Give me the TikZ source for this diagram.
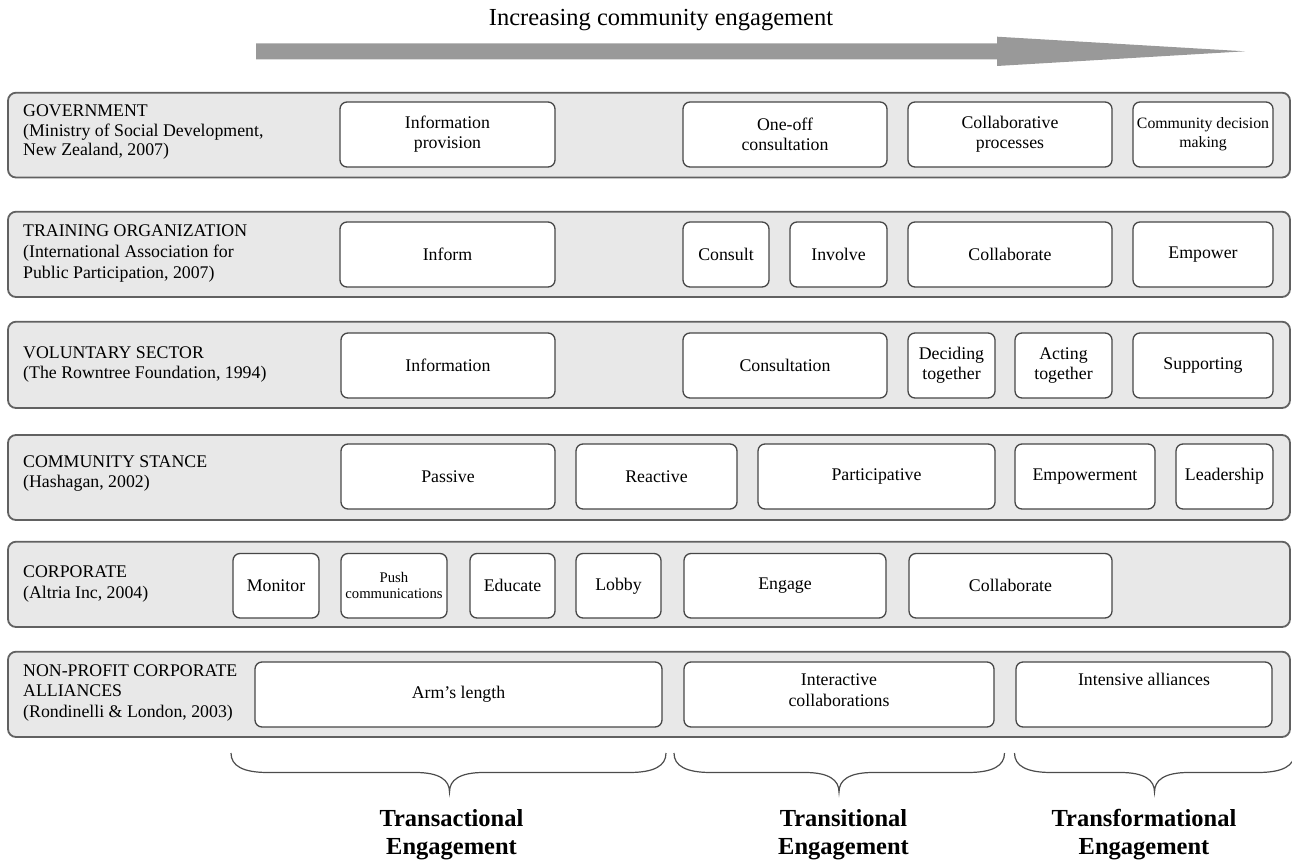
\documentclass[tikz,border=0pt]{standalone}
\usepackage{fontspec}
\setmainfont{Liberation Serif}
\newcommand\lblfont{\fontsize{17.8}{20}\selectfont}
\newcommand\boxfont{\fontsize{17.8}{20}\selectfont}
\newcommand\bigfont{\fontsize{24.5}{28}\selectfont}
\tikzset{
  rowbox/.style={draw=black!62, line width=1.8pt, fill=black!9, rounded corners=8pt},
  ibox/.style={draw=black!72, line width=1.3pt, fill=white, rounded corners=7pt,
    inner sep=0pt, outer sep=0pt, align=center, font=\boxfont},
  lbl/.style={anchor=north west, inner sep=0pt, align=left, font=\lblfont},
  btxt/.style={anchor=north, inner sep=0pt, align=center, font=\bigfont\bfseries},
  bracepath/.style={draw=black!70, line width=1.2pt},
  bigarrow/.style={fill=black!40, draw=none}
}
\newcommand\ibx[7][]{%
  \pgfmathsetmacro\bw{#4-#3}\pgfmathsetmacro\bh{#6-#5}%
  \pgfmathsetmacro\bcx{(#3+#4)/2}\pgfmathsetmacro\bcy{(#5+#6)/2}%
  \node[ibox,minimum width=\bw pt,minimum height=\bh pt,#1] (#2) at (\bcx,\bcy) {#7};}
\newcommand\brc[3]{%
  \draw[bracepath] (#1,753) .. controls (#1,766) and (#1+12,772.5) .. (#1+37,772.5)
    -- (#2-34,772.5) .. controls (#2-10,772.5) and (#2,780) .. (#2,792)
    .. controls (#2,780) and (#2+10,772.5) .. (#2+34,772.5)
    -- (#3-37,772.5) .. controls (#3-12,772.5) and (#3,766) .. (#3,753);}
\begin{document}
\begin{tikzpicture}[x=1pt,y=-1pt]
\useasboundingbox (0,0) rectangle (1292,861);

% title and arrow
\node[anchor=base, inner sep=0pt, font=\bigfont] (title) at (661,26) {Increasing community engagement};
\fill[bigarrow] (256,43.3) -- (997,43.3) -- (997,36.7) -- (1245,51.3) -- (997,66) -- (997,59.3) -- (256,59.3) -- cycle;

% row backgrounds
\draw[rowbox] (8,92.7) rectangle (1290,177.5);
\draw[rowbox] (8,211.7) rectangle (1290,297);
\draw[rowbox] (8,321.7) rectangle (1290,408);
\draw[rowbox] (8,435) rectangle (1290,520);
\draw[rowbox] (8,541.7) rectangle (1290,627);
\draw[rowbox] (8,651.7) rectangle (1290,737);

% row labels
\node[lbl, font=\fontsize{17.8}{19.5}\selectfont] (L1) at (23,{116.7-14}) {\rule{0pt}{14pt}GOVERNMENT\\(Ministry of Social Development,\\New Zealand, 2007)};
\node[lbl, font=\fontsize{17.8}{21}\selectfont] (L2) at (23,{236.7-14}) {\rule{0pt}{14pt}TRAINING ORGANIZATION\\(International Association for\\Public Participation, 2007)};
\node[lbl] (L3) at (23,{358.3-14}) {\rule{0pt}{14pt}VOLUNTARY SECTOR\\(The Rowntree Foundation, 1994)};
\node[lbl] (L4) at (23,{467.3-14}) {\rule{0pt}{14pt}COMMUNITY STANCE\\(Hashagan, 2002)};
\node[lbl, font=\fontsize{17.8}{20.6}\selectfont] (L5) at (23,{577.7-14}) {\rule{0pt}{14pt}CORPORATE\\(Altria Inc, 2004)};
\node[lbl, font=\fontsize{17.8}{20.7}\selectfont] (L6) at (23,{676-14}) {\rule{0pt}{14pt}NON-PROFIT CORPORATE\\ALLIANCES\\(Rondinelli \& London, 2003)};

% row 1
\ibx{gIP}{340}{555}{102}{167}{Information\\provision}
\ibx{gOO}{683}{887}{102}{167}{One-off\\consultation}
\ibx{gCP}{908}{1112}{102}{167}{Collaborative\\processes}
\ibx[font=\fontsize{15.8}{19}\selectfont]{gCD}{1133}{1273}{102}{167}{Community decision\\making}
% row 2
\ibx{tIn}{340}{555}{222}{287}{Inform}
\ibx{tCo}{683}{769}{222}{287}{Consult}
\ibx{tIv}{790}{887}{222}{287}{Involve}
\ibx{tCl}{908}{1112}{222}{287}{Collaborate}
\ibx{tEm}{1133}{1273}{222}{287}{Empower}
% row 3
\ibx{vIn}{341}{555}{333}{398}{Information}
\ibx{vCo}{683}{887}{333}{398}{Consultation}
\ibx{vDe}{908}{995}{333}{398}{Deciding\\together}
\ibx{vAc}{1015}{1112}{333}{398}{Acting\\together}
\ibx{vSu}{1133}{1273}{333}{398}{Supporting}
% row 4
\ibx{cPa}{341}{555}{444}{509}{Passive}
\ibx{cRe}{576}{737}{444}{509}{Reactive}
\ibx{cPt}{758}{995}{444}{509}{Participative}
\ibx{cEm}{1015}{1155}{444}{509}{Empowerment}
\ibx{cLe}{1176}{1273}{444}{509}{Leadership}
% row 5
\ibx{pMo}{233}{319}{553.5}{618}{Monitor}
\ibx[font=\fontsize{14.7}{16}\selectfont]{pPu}{341}{447}{553.5}{618}{Push\\communications}
\ibx{pEd}{470}{555}{553.5}{618}{Educate}
\ibx{pLo}{576}{661}{553.5}{618}{Lobby}
\ibx{pEn}{684}{886}{553.5}{618}{Engage}
\ibx{pCl}{909}{1112}{553.5}{618}{Collaborate}
% row 6
\ibx{nAr}{255}{662}{662}{727}{Arm’s length}
\ibx{nIn}{684}{994}{662}{727}{}
\ibx{nIa}{1016}{1272}{662}{727}{}
\node[anchor=north, inner sep=0pt, align=center, font=\fontsize{17.8}{21.7}\selectfont] (nInT) at (839,{685-14}) {\rule{0pt}{14pt}Interactive\\collaborations};
\node[anchor=north, inner sep=0pt, align=center, font=\boxfont] (nIaT) at (1144,{685-14}) {\rule{0pt}{14pt}Intensive alliances};

% braces
\brc{231}{449.5}{666}
\brc{674}{839}{1004.5}
\brc{1014.5}{1154.5}{1294.5}

% bottom labels
\node[btxt] (E1) at (451.5,{826.7-20}) {\rule{0pt}{20pt}Transactional\\Engagement};
\node[btxt] (E2) at (843.5,{826.7-20}) {\rule{0pt}{20pt}Transitional\\Engagement};
\node[btxt] (E3) at (1144,{826.7-20}) {\rule{0pt}{20pt}Transformational\\Engagement};
\end{tikzpicture}
\end{document}
